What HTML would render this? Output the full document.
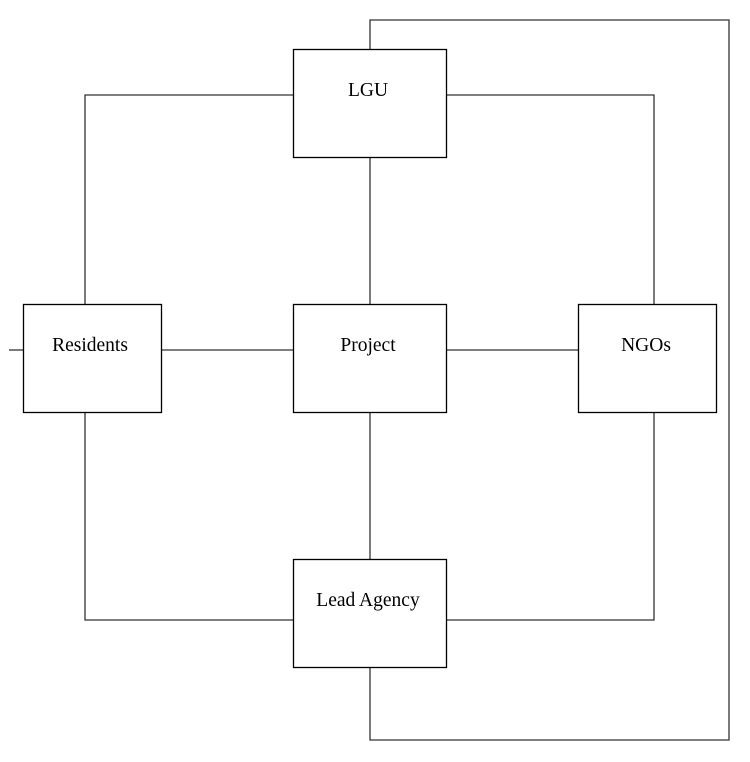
<!DOCTYPE html>
<html><head><style>html,body{margin:0;padding:0;background:#fff}svg{display:block}</style></head>
<body>
<svg width="750" height="762" viewBox="0 0 750 762" xmlns="http://www.w3.org/2000/svg">
<g fill="none" stroke="#333" stroke-width="1.3">
<polyline points="293,95 85,95 85,304"/>
<polyline points="446,95 654,95 654,304"/>
<line x1="370" y1="157" x2="370" y2="304"/>
<line x1="161" y1="350" x2="293" y2="350"/>
<line x1="446" y1="350" x2="578" y2="350"/>
<line x1="9" y1="350" x2="23" y2="350"/>
<polyline points="85,412 85,620 293,620"/>
<polyline points="654,412 654,620 446,620"/>
<line x1="370" y1="412" x2="370" y2="559"/>
<polyline points="370,667 370,740 729,740 729,20 370,20 370,49"/>
</g>
<g fill="#fff" stroke="#000" stroke-width="1.3">
<rect x="293.5" y="49.5" width="153" height="108"/>
<rect x="23.5" y="304.5" width="138" height="108"/>
<rect x="293.5" y="304.5" width="153" height="108"/>
<rect x="578.5" y="304.5" width="138" height="108"/>
<rect x="293.5" y="559.5" width="153" height="108"/>
</g>
<g font-family="'Liberation Serif', serif" font-size="19.5" fill="#000" text-anchor="middle">
<text x="368" y="96">LGU</text>
<text x="90" y="351">Residents</text>
<text x="368" y="351">Project</text>
<text x="646" y="351">NGOs</text>
<text x="368" y="606">Lead Agency</text>
</g>
</svg>
</body></html>
